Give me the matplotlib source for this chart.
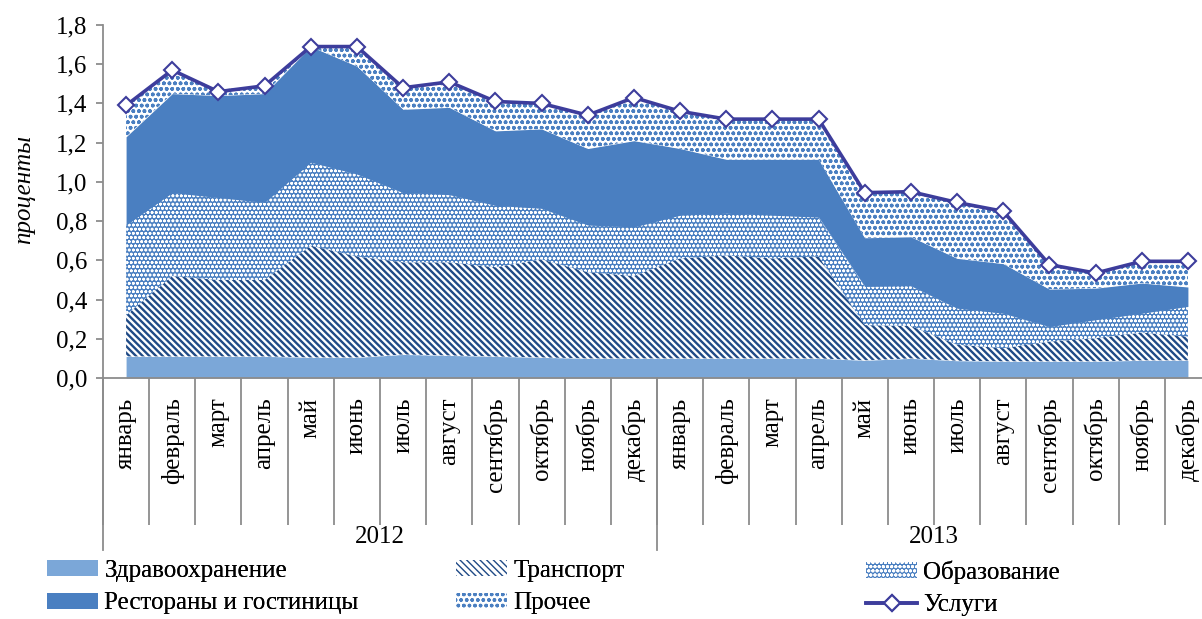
import numpy as np
import matplotlib
matplotlib.use('Agg')
import matplotlib.pyplot as plt
from matplotlib.patches import Patch
from matplotlib.lines import Line2D

plt.rcParams['font.family'] = ['Liberation Serif', 'DejaVu Serif']

# ---------------- data ----------------
months = ['январь', 'февраль', 'март', 'апрель', 'май', 'июнь', 'июль',
          'август', 'сентябрь', 'октябрь', 'ноябрь', 'декабрь']
month_labels = months + months
years = ['2012', '2013']

health = [0.11, 0.11, 0.11, 0.11, 0.105, 0.105, 0.12, 0.115, 0.11, 0.105, 0.10, 0.10,
          0.10, 0.10, 0.10, 0.10, 0.09, 0.10, 0.088, 0.085, 0.085, 0.085, 0.09, 0.09]
transport = [0.21, 0.41, 0.39, 0.39, 0.57, 0.515, 0.47, 0.475, 0.455, 0.50, 0.44, 0.42,
             0.51, 0.525, 0.51, 0.52, 0.18, 0.165, 0.082, 0.067, 0.101, 0.118, 0.142, 0.121]
education = [0.46, 0.425, 0.42, 0.395, 0.425, 0.42, 0.355, 0.345, 0.315, 0.26, 0.24, 0.25,
             0.22, 0.215, 0.22, 0.20, 0.197, 0.205, 0.186, 0.178, 0.076, 0.094, 0.098, 0.154]
restaurants = [0.45, 0.505, 0.52, 0.555, 0.59, 0.55, 0.425, 0.445, 0.38, 0.405, 0.39, 0.44,
               0.34, 0.275, 0.285, 0.295, 0.248, 0.25, 0.254, 0.253, 0.191, 0.161, 0.154, 0.099]
other = [0.16, 0.12, 0.03, 0.04, 0.0, 0.10, 0.11, 0.13, 0.15, 0.13, 0.17, 0.22,
         0.19, 0.205, 0.205, 0.205, 0.23, 0.23, 0.285, 0.267, 0.125, 0.077, 0.111, 0.131]
services = [1.39, 1.57, 1.46, 1.49, 1.69, 1.69, 1.48, 1.51, 1.41, 1.40, 1.34, 1.43,
            1.36, 1.32, 1.32, 1.32, 0.945, 0.95, 0.895, 0.85, 0.578, 0.535, 0.595, 0.595]

yticks = [0.0, 0.2, 0.4, 0.6, 0.8, 1.0, 1.2, 1.4, 1.6, 1.8]
ytick_labels = ['0,0', '0,2', '0,4', '0,6', '0,8', '1,0', '1,2', '1,4', '1,6', '1,8']

series_names = ['Здравоохранение', 'Транспорт', 'Образование', 'Рестораны и гостиницы', 'Прочее']
line_name = 'Услуги'

# ---------------- styles ----------------
C_HEALTH = '#7BA7D8'
C_MID = '#4A7FC1'
C_NAVY = '#1F4A86'
C_LINE = '#3D3D9C'
C_AXIS = '#8C8C8C'

styles = [
    dict(facecolor=C_HEALTH, edgecolor=C_HEALTH, hatch=None, hlw=1.0),
    dict(facecolor='white', edgecolor=C_NAVY, hatch='\\\\\\\\\\', hlw=1.7),
    dict(facecolor=C_MID, edgecolor='white', hatch='oooo', hlw=0.8),
    dict(facecolor=C_MID, edgecolor=C_MID, hatch=None, hlw=1.0),
    dict(facecolor='white', edgecolor=C_MID, hatch='ooo', hlw=1.1),
]

W, H = 1202, 619
fig = plt.figure(figsize=(W / 100, H / 100), dpi=100)
ax_left, ax_right, ax_top, ax_bottom = 103, 1211, 25, 378
ax = fig.add_axes([ax_left / W, 1 - ax_bottom / H, (ax_right - ax_left) / W, (ax_bottom - ax_top) / H])

x = np.arange(len(month_labels))
base = np.zeros(len(x))
for vals, st in zip([health, transport, education, restaurants, other], styles):
    top = base + np.array(vals)
    with plt.rc_context({'hatch.linewidth': st['hlw']}):
        coll = ax.fill_between(x, base, top, facecolor=st['facecolor'],
                               edgecolor=st['edgecolor'], hatch=st['hatch'], linewidth=0)
        if hasattr(coll, 'set_hatch_linewidth'):
            coll.set_hatch_linewidth(st['hlw'])
    base = top

ax.plot(x, services, color=C_LINE, linewidth=2.6, marker='D', markersize=8,
        markerfacecolor='white', markeredgecolor=C_LINE, markeredgewidth=1.5, zorder=5)

ax.set_xlim(-0.5, len(x) - 0.5)
ax.set_ylim(0, 1.8)

for s in ['top', 'right']:
    ax.spines[s].set_visible(False)
for s in ['left', 'bottom']:
    ax.spines[s].set_color(C_AXIS)
    ax.spines[s].set_linewidth(1.3)

ax.set_yticks(yticks)
ax.set_yticklabels(ytick_labels, fontsize=18)
ax.tick_params(axis='y', direction='out', length=5, width=1.3, color=C_AXIS, pad=6)

ax.set_xticks(x)
ax.set_xticklabels(month_labels, rotation=90, fontsize=18)
ax.tick_params(axis='x', which='major', length=0, pad=14)
ax.set_xticks(np.arange(-0.5, len(x), 1.0), minor=True)
ax.tick_params(axis='x', which='minor', direction='out', length=106, width=1.3, color=C_AXIS)

axh = ax_bottom - ax_top
tr = ax.get_xaxis_transform()
year_line_end = -(550 - ax_bottom) / axh
for xb in [-0.5, 11.5, 23.5]:
    ax.plot([xb, xb], [0, year_line_end], transform=tr, color=C_AXIS, linewidth=1.3, clip_on=False)
for i, yr in enumerate(years):
    ax.text(i * 12 + 5.5, -(537 - ax_bottom) / axh, yr, transform=tr, ha='center', va='center', fontsize=18)

fig.text(24 / W, 1 - 190 / H, 'проценты', rotation=90, ha='center', va='center',
         fontsize=18, style='italic')

# ---------------- legend ----------------
def make_patch(st):
    p = Patch(facecolor=st['facecolor'], edgecolor=st['edgecolor'], hatch=st['hatch'], linewidth=0)
    if hasattr(p, 'set_hatch_linewidth'):
        p.set_hatch_linewidth(st['hlw'])
    return p

handles = [make_patch(st) for st in styles]
line_handle = Line2D([], [], color=C_LINE, linewidth=2.6, marker='D', markersize=8,
                     markerfacecolor='white', markeredgecolor=C_LINE, markeredgewidth=1.5)

cols = [([handles[0], handles[3]], [series_names[0], series_names[3]], 47),
        ([handles[1], handles[4]], [series_names[1], series_names[4]], 456),
        ([handles[2], line_handle], [series_names[2], line_name], 866)]
for hs, ls, xpx in cols:
    leg = fig.legend(hs, ls, loc='upper left', bbox_to_anchor=(xpx / W, 1 - 560 / H),
                     bbox_transform=fig.transFigure, frameon=False, fontsize=18,
                     borderpad=0, borderaxespad=0, handlelength=2.05, handleheight=0.6,
                     handletextpad=0.25, labelspacing=0.42)
    fig.add_artist(leg)

fig.savefig('out.png', dpi=100)
